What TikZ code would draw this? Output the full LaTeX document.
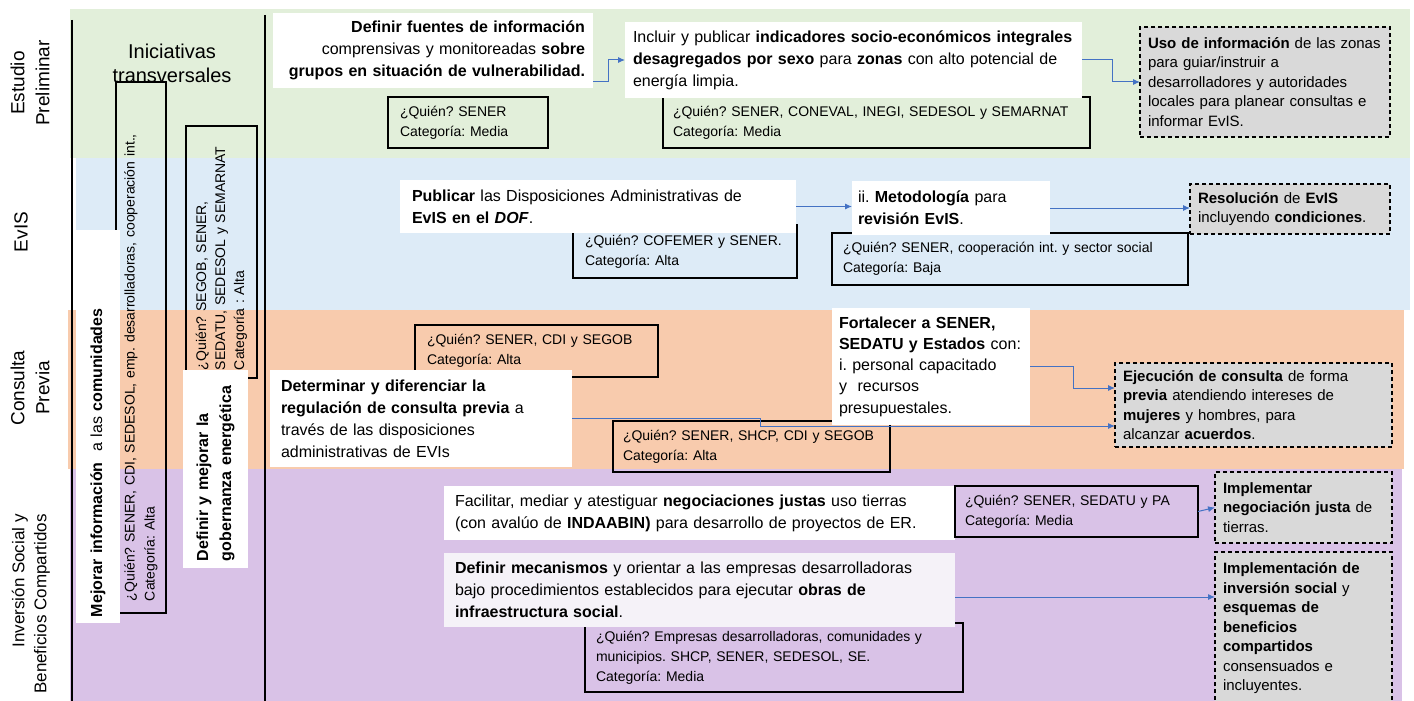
\documentclass[tikz,border=0pt]{standalone}
\usepackage{fontspec}
\setmainfont{Liberation Sans}
\usetikzlibrary{arrows.meta,calc}

\definecolor{bandgreen}{HTML}{E2EFDA}
\definecolor{bandblue}{HTML}{DDEBF7}
\definecolor{bandorange}{HTML}{F8CBAD}
\definecolor{bandpurple}{HTML}{D9C2E7}
\definecolor{outgray}{HTML}{D9D9D9}
\definecolor{linkblue}{HTML}{4472C4}
\definecolor{palelav}{HTML}{F5F2F8}

\newcommand\mainsize{\fontsize{16}{22}\selectfont}
\newcommand\whosize{\fontsize{14}{20}\selectfont}
\newcommand\outsize{\fontsize{15}{19.5}\selectfont}

\tikzset{
  every node/.style={inner ysep=2pt, outer sep=0pt},
  sized/.style n args={3}{minimum width=#1pt, minimum height=#2pt, text width=#3pt},
  wbox/.style={fill=white, anchor=north west, align=left, font=\mainsize},
  whobox/.style={draw=black, line width=1.2pt, anchor=north west, align=left, font=\whosize},
  outbox/.style={draw=black, fill=outgray, dash pattern=on 4pt off 3pt, line width=1.2pt,
                 anchor=north west, align=left, font=\outsize, inner xsep=8pt},
  link/.style={draw=linkblue, line width=1pt, -{Latex[length=7pt,width=6pt]}},
  sepline/.style={line width=2pt},
  lane/.style={rotate=90, align=center, font=\fontsize{19}{25}\selectfont},
}

\frenchspacing
\begin{document}
\begin{tikzpicture}[x=1pt,y=-1pt]
\useasboundingbox (0,0) rectangle (1414,701);

% stage bands
\fill[bandgreen]  (70,9)    rectangle (1410,158);
\fill[bandblue]   (76,158)  rectangle (1410,310);
\fill[bandorange] (68,310)  rectangle (1404,469);
\fill[bandpurple] (70,469)  rectangle (1402,701);

% stage labels
\node[lane] (lab1) at (30,83)  {Estudio\\Preliminar};
\node[lane] (lab2) at (21,232) {EvIS};
\node[lane] (lab3) at (30,388) {Consulta\\Previa};
\node[lane, align=right, font=\fontsize{17}{22}\selectfont] (lab4) at (31,604)
  {Inversión Social y\\Beneficios Compartidos};

% column separators
\draw[sepline] (72,20) -- (72,701);
\draw[sepline] (265,15) -- (265,701);

% cross-cutting initiatives
\node[align=center, font=\fontsize{20}{24}\selectfont] (trans) at (172,63)
  {Iniciativas\\transversales};

\node[whobox, rotate=90, anchor=center, sized={531}{50}{507}, inner xsep=12pt] (vq1) at (141,347.5)
  {¿Quién? SENER, CDI, SEDESOL, emp. desarrolladoras, cooperación int.,\\Categoría: Alta};
\node[whobox, rotate=90, anchor=center, sized={252}{71}{236}, inner xsep=8pt,
      font=\fontsize{14}{19}\selectfont] (vq2) at (221.5,252)
  {¿Quién? SEGOB, SENER,\\SEDATU, SEDESOL y SEMARNAT\\Categoría : Alta};
\node[wbox, rotate=90, anchor=center, sized={393}{44}{381}, inner xsep=6pt] (vw1) at (98,426.5)
  {\textbf{Mejorar información}\ \ a las \textbf{comunidades}};
\node[wbox, rotate=90, anchor=center, sized={198}{65}{184}, inner xsep=7pt,
      font=\fontsize{16}{23}\selectfont\bfseries] (vw2) at (215.5,469)
  {Definir y mejorar la\\gobernanza energética};

% --- Estudio preliminar
\node[whobox, sized={160}{51}{136}, inner xsep=12pt] (qa) at (388,97)
  {¿Quién? SENER\\Categoría: Media};
\node[whobox, sized={427}{51}{407}, inner xsep=10pt] (qb) at (663,97)
  {¿Quién? SENER, CONEVAL, INEGI, SEDESOL y SEMARNAT\\Categoría: Media};
\node[wbox, align=right, sized={320}{75}{304}, inner xsep=8pt] (fa) at (273,13)
  {\textbf{Definir fuentes de información}\\comprensivas y monitoreadas \textbf{sobre}\\\textbf{grupos en situación de vulnerabilidad.}};
\node[wbox, sized={457}{76}{441}, inner xsep=8pt] (fb) at (625,22)
  {Incluir y publicar \textbf{indicadores socio-económicos integrales}\\\textbf{desagregados por sexo} para \textbf{zonas} con alto potencial de\\energía limpia.};
\node[outbox, sized={250}{110}{234}] (fc) at (1140,27)
  {\textbf{Uso de información} de las zonas\\para guiar/instruir a\\desarrolladores y autoridades\\locales para planear consultas e\\informar EvIS.};

% --- EvIS
\node[whobox, sized={224}{53}{200}, inner xsep=12pt] (qd) at (573,225)
  {¿Quién? COFEMER y SENER.\\Categoría: Alta};
\node[wbox, sized={396}{53}{372}, inner xsep=12pt] (fd) at (400,180)
  {\textbf{Publicar} las Disposiciones Administrativas de\\\textbf{EvIS en el \textit{DOF}}.};
\node[whobox, sized={356}{52}{334}, inner xsep=11pt] (qe) at (832,233)
  {¿Quién? SENER, cooperación int. y sector social\\Categoría: Baja};
\node[wbox, sized={198}{54}{186}, inner xsep=6pt] (fe) at (852,181)
  {ii. \textbf{Metodología} para\\\textbf{revisión EvIS}.};
\node[outbox, sized={200}{50}{184}] (ff) at (1190,184)
  {\textbf{Resolución} de \textbf{EvIS}\\incluyendo \textbf{condiciones}.};

% --- Consulta previa
\node[whobox, sized={243}{52}{219}, inner xsep=12pt] (qg1) at (415,325)
  {¿Quién? SENER, CDI y SEGOB\\Categoría: Alta};
\node[wbox, sized={302}{97}{280}, inner xsep=11pt] (fg) at (270,370)
  {\textbf{Determinar y diferenciar la}\\\textbf{regulación de consulta previa} a\\través de las disposiciones\\administrativas de EVIs};
\node[whobox, sized={277}{51}{257}, inner xsep=10pt] (qg2) at (613,421)
  {¿Quién? SENER, SHCP, CDI y SEGOB\\Categoría: Alta};
\node[wbox, sized={198}{117}{184}, inner xsep=7pt, font=\fontsize{16}{21.2}\selectfont] (fh) at (832,308)
  {\textbf{Fortalecer a SENER,}\\\textbf{SEDATU y Estados} con:\\i. personal capacitado\\y\ \ recursos\\presupuestales.};
\node[outbox, sized={277}{84}{261}] (fi) at (1115,363)
  {\textbf{Ejecución de consulta} de forma\\\textbf{previa} atendiendo intereses de\\\textbf{mujeres} y hombres, para\\alcanzar \textbf{acuerdos}.};

% --- Inversión social y beneficios compartidos
\node[wbox, sized={511}{54}{489}, inner xsep=11pt] (fj) at (444,486)
  {Facilitar, mediar y atestiguar \textbf{negociaciones justas} uso tierras\\(con avalúo de \textbf{INDAABIN)} para desarrollo de proyectos de ER.};
\node[whobox, sized={243}{51}{223}, inner xsep=10pt] (qj) at (955,486)
  {¿Quién? SENER, SEDATU y PA\\Categoría: Media};
\node[outbox, sized={177}{71}{161}] (fk) at (1215,472)
  {\textbf{Implementar}\\\textbf{negociación justa} de\\tierras.};
\node[whobox, sized={378}{69}{356}, inner xsep=11pt] (ql) at (585,623)
  {¿Quién? Empresas desarrolladoras, comunidades y\\municipios. SHCP, SENER, SEDESOL, SE.\\Categoría: Media};
\node[wbox, fill=palelav, sized={511}{74}{489}, inner xsep=11pt] (fl) at (444,553)
  {\textbf{Definir mecanismos} y orientar a las empresas desarrolladoras\\bajo procedimientos establecidos para ejecutar \textbf{obras de}\\\textbf{infraestructura social}.};
\node[outbox, sized={177}{153}{161}] (fm) at (1215,552)
  {\textbf{Implementación de}\\\textbf{inversión social} y\\\textbf{esquemas de}\\\textbf{beneficios}\\\textbf{compartidos}\\consensuados e\\incluyentes.};

% connectors
\draw[link] ($(fa.south east)+(0,-6)$) -- ++(15,0) |- (fb.west);
\draw[link] (fb.east) -- ++(30,0) |- (fc.west);
\draw[link] (fd.east) -- (fd.east -| fe.west);
\draw[link] (fe.east) -- (fe.east -| ff.west);
\draw[link] (fg.east) -- ++(188,0) |- ($(fi.west)+(0,21)$);
\draw[link] (fh.east) -- ++(43,0) |- ($(fi.west)+(0,-17)$);
\draw[link] (qj.east) -- (fk.west);
\coordinate (lm) at ($(fl.east)+(0,7)$);
\draw[link] (lm) -- (lm -| fm.west);
\end{tikzpicture}
\end{document}
